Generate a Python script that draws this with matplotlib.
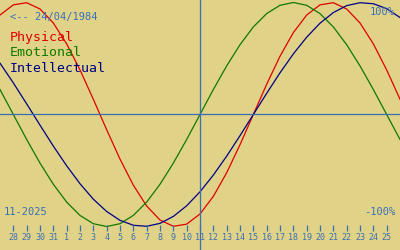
import matplotlib
matplotlib.use("Agg")
import matplotlib.pyplot as plt

# days shown on the axis (28 Oct .. 25 Nov 2025), today = 11
day_labels = ["28", "29", "30", "31", "1", "2", "3", "4", "5", "6", "7", "8", "9", "10",
              "11", "12", "13", "14", "15", "16", "17", "18", "19", "20", "21", "22",
              "23", "24", "25"]
today_label = "11"

# curve values from 27 Oct to 26 Nov (one per day, -1..1)
physical = [0.888, 0.979, 0.998, 0.942, 0.817, 0.631, 0.398, 0.136, -0.136, -0.398,
            -0.631, -0.817, -0.942, -0.998, -0.979, -0.888, -0.731, -0.520, -0.270, 0.0,
            0.270, 0.520, 0.731, 0.888, 0.979, 0.998, 0.942, 0.817, 0.631, 0.398, 0.136]
emotional = [0.223, 0.0, -0.223, -0.434, -0.623, -0.782, -0.901, -0.975, -1.0, -0.975,
             -0.901, -0.782, -0.623, -0.434, -0.223, 0.0, 0.223, 0.434, 0.623, 0.782,
             0.901, 0.975, 1.0, 0.975, 0.901, 0.782, 0.623, 0.434, 0.223, 0.0, -0.223]
intellectual = [0.458, 0.282, 0.095, -0.095, -0.282, -0.458, -0.618, -0.756, -0.866, -0.945,
                -0.989, -0.998, -0.972, -0.910, -0.815, -0.690, -0.541, -0.372, -0.189, 0.0,
                0.189, 0.372, 0.541, 0.690, 0.815, 0.910, 0.972, 0.998, 0.989, 0.945, 0.866]

bg = "#e0d286"
txt_blue = "#3a6fb8"
c_phys = "#e00000"
c_emo = "#107a00"
c_int = "#000088"

fig = plt.figure(figsize=(4, 2.5), dpi=100, facecolor=bg)
ax = fig.add_axes([0, 0, 1, 1])
ax.set_facecolor(bg)
ax.set_axis_off()

x = list(range(len(physical)))
ax.plot(x, physical, color=c_phys, lw=0.9)
ax.plot(x, emotional, color=c_emo, lw=0.9)
ax.plot(x, intellectual, color=c_int, lw=0.9)

ax.axhline(0, color=txt_blue, lw=0.9)
today_x = day_labels.index(today_label) + 1
ax.axvline(today_x, color=txt_blue, lw=0.9)

ax.set_xlim(0, 30)
ax.set_ylim(-1.2098, 1.0223)

# day ticks along the bottom
tr = ax.get_xaxis_transform()
tick_x = list(range(1, len(day_labels) + 1))
ax.vlines(tick_x, 1 - 231 / 250, 1 - 225 / 250, transform=tr, color=txt_blue, lw=0.9)
for tx, lab in zip(tick_x, day_labels):
    ax.text(tx, 1 - 238 / 250, lab, transform=tr, ha="center", va="center",
            fontsize=6, family="DejaVu Sans Mono", color=txt_blue)

mono = "DejaVu Sans Mono"
ax.text(10 / 400, 1 - 17 / 250, "<-- 24/04/1984", transform=ax.transAxes,
        ha="left", va="center", fontsize=7.5, family=mono, color=txt_blue)
ax.text(10 / 400, 1 - 38 / 250, "Physical", transform=ax.transAxes,
        ha="left", va="center", fontsize=9.5, family=mono, color=c_phys)
ax.text(10 / 400, 1 - 53 / 250, "Emotional", transform=ax.transAxes,
        ha="left", va="center", fontsize=9.5, family=mono, color=c_emo)
ax.text(10 / 400, 1 - 68 / 250, "Intellectual", transform=ax.transAxes,
        ha="left", va="center", fontsize=9.5, family=mono, color=c_int)
ax.text(395 / 400, 1 - 12 / 250, "100%", transform=ax.transAxes,
        ha="right", va="center", fontsize=7.5, family=mono, color=txt_blue)
ax.text(395 / 400, 1 - 212 / 250, "-100%", transform=ax.transAxes,
        ha="right", va="center", fontsize=7.5, family=mono, color=txt_blue)
ax.text(4 / 400, 1 - 212 / 250, "11-2025", transform=ax.transAxes,
        ha="left", va="center", fontsize=7.5, family=mono, color=txt_blue)

fig.savefig("out.png", dpi=100, facecolor=bg)
